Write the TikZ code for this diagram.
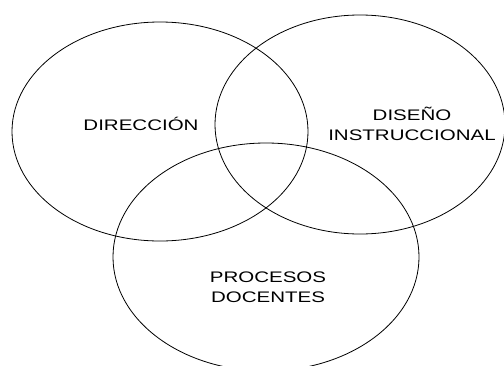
\documentclass[tikz,border=0pt]{standalone}
\usepackage{fontspec}
\newfontfamily\areafont{Liberation Sans}[FakeStretch=1.34]
\begin{document}
\begin{tikzpicture}[x=1pt,y=-1pt,
    area/.style={font=\areafont\fontsize{15.3}{20}\selectfont, align=center, inner sep=0pt}]
  \useasboundingbox (0,0) rectangle (504,365);

  % Define ellipses for the three areas
  \def\ellipseDir{(160,131.5) ellipse (148pt and 109.5pt)}
  \def\ellipseDis{(360,124.5) ellipse (145pt and 109.5pt)}
  \def\ellipseProc{(266,257) ellipse (153pt and 114pt)}

  % Outline the ellipses
  \draw[line width=0.8pt] \ellipseDir;
  \draw[line width=0.8pt] \ellipseDis;
  \draw[line width=0.8pt] \ellipseProc;

  % Label the areas
  \node[area] (dir) at (141,123.5) {DIRECCIÓN};
  \node[area] (dis) at (412,124) {DISEÑO\\INSTRUCCIONAL};
  \node[area] (proc) at (268,287.5) {PROCESOS\\DOCENTES};
\end{tikzpicture}
\end{document}
